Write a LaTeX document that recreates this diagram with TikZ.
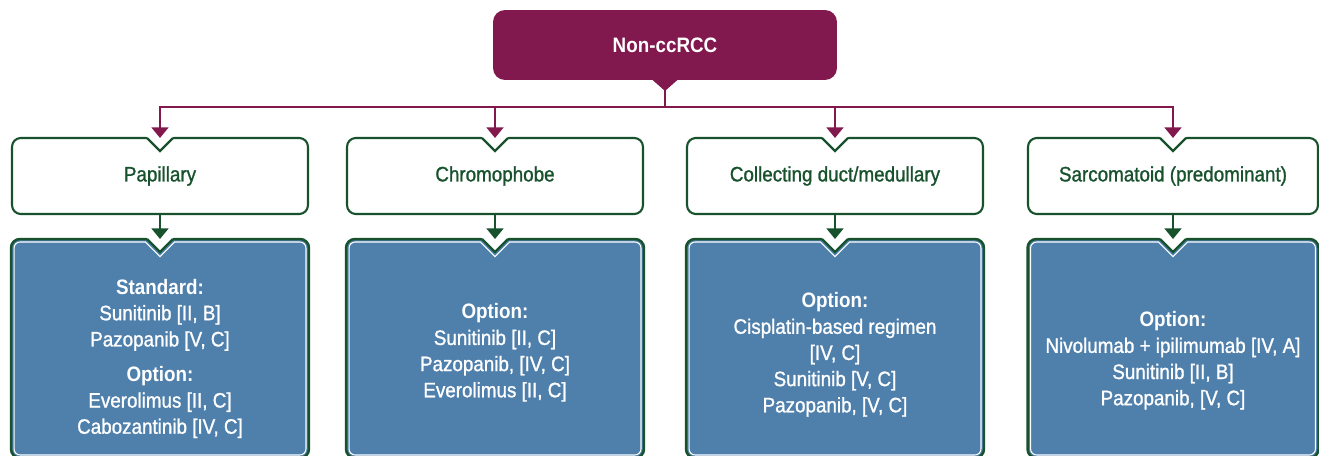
\documentclass[tikz,border=0pt]{standalone}
\usepackage{fontspec}
\setmainfont{Liberation Sans}[FakeStretch=0.9, UprightFeatures={FakeBold=1.1}]
\usetikzlibrary{arrows.meta,calc}
\definecolor{rccmaroon}{RGB}{130,25,78}
\definecolor{rccgreen}{RGB}{24,82,45}
\definecolor{rccblue}{RGB}{79,128,172}
\newcommand\rxtop[1]{\rule{0pt}{#1}}
\tikzset{
  rootbox/.style={fill=rccmaroon, text=white, rounded corners=6.8pt, minimum width=6.88cm, minimum height=1.4cm, outer sep=0pt, font=\fontsize{11.9}{14.9}\selectfont\bfseries},
  typebox/.style={draw=rccgreen, line width=1.2pt, fill=white, text=rccgreen, rounded corners=5pt, minimum width=5.92cm, minimum height=1.52cm, outer sep=0pt},
  rxbox/.style={draw=rccgreen, line width=1.4pt, fill=rccblue, text=white, rounded corners=5pt, minimum width=5.96cm, minimum height=4.38cm, outer sep=0pt, align=center},
  mline/.style={draw=rccmaroon, line width=1.2pt},
  garrow/.style={draw=rccgreen, line width=1.2pt, -{Triangle[width=9.5pt,length=6pt]}},
  marrow/.style={mline, -{Triangle[width=9.5pt,length=6pt]}},
}
\begin{document}
\begin{tikzpicture}[x=0.02cm, y=-0.02cm, font=\fontsize{11.9}{14.9}\selectfont]
\useasboundingbox (0,0) rectangle (1319,456);
\node[rootbox] (root) at (665,45) {Non-ccRCC};
\node[typebox] (pap) at (160,176) {Papillary};
\node[typebox] (chr) at (495,176) {Chromophobe};
\node[typebox] (col) at (835,176) {Collecting duct/medullary};
\node[typebox, minimum width=5.8cm] (sar) at (1173,176) {Sarcomatoid (predominant)};
\node[rxbox] (papRx) at (160,348.5) {\rxtop{20pt}\textbf{Standard:}\\Sunitinib [II, B]\\Pazopanib [V, C]\\[5pt]\textbf{Option:}\\Everolimus [II, C]\\Cabozantinib [IV, C]};
\node[rxbox] (chrRx) at (495,348.5) {\rxtop{13.3pt}\textbf{Option:}\\Sunitinib [II, C]\\Pazopanib, [IV, C]\\Everolimus [II, C]};
\node[rxbox] (colRx) at (835,348.5) {\rxtop{15.5pt}\textbf{Option:}\\Cisplatin-based regimen\\{}[IV, C]\\Sunitinib [V, C]\\Pazopanib, [V, C]};
\node[rxbox, minimum width=5.82cm] (sarRx) at (1173,348.5) {\rxtop{22.3pt}\textbf{Option:}\\Nivolumab + ipilimumab [IV, A]\\Sunitinib [II, B]\\Pazopanib, [V, C]};
\foreach \n in {pap,chr,col,sar,papRx,chrRx,colRx,sarRx} {
  \fill[white] ($(\n.north)+(-15,-3)$) -- ($(\n.north)+(15,-3)$) -- ($(\n.north)+(0,12)$) -- cycle;
  \draw[rccgreen, line width=1.3pt, line join=miter] ($(\n.north)+(-13,0)$) -- ($(\n.north)+(0,13)$) -- ($(\n.north)+(13,0)$);
}
\foreach \n in {papRx,chrRx,colRx,sarRx}
  \draw[white, line width=0.6pt] ($(\n.north)+(0,17.5)$) -- ($(\n.north)+(14.5,3)$) [rounded corners=3.5pt] -- ($(\n.north east)+(-3,3)$) -- ($(\n.south east)+(-3,-3)$) -- ($(\n.south west)+(3,-3)$) -- ($(\n.north west)+(3,3)$) [sharp corners] -- ($(\n.north)+(-14.5,3)$) -- cycle;
\fill[rccmaroon] ($(root.south)+(-13.5,-1)$) -- ($(root.south)+(13.5,-1)$) -- ($(root.south)+(0,11)$) -- cycle;
\draw[marrow] (root.south) -- ++(0,27) -| (pap.north);
\draw[marrow] (root.south) -- ++(0,27) -| (chr.north);
\draw[marrow] (root.south) -- ++(0,27) -| (col.north);
\draw[marrow] (root.south) -- ++(0,27) -| (sar.north);
\draw[garrow] (pap) -- (papRx.north);
\draw[garrow] (chr) -- (chrRx.north);
\draw[garrow] (col) -- (colRx.north);
\draw[garrow] (sar) -- (sarRx.north);
\end{tikzpicture}
\end{document}
